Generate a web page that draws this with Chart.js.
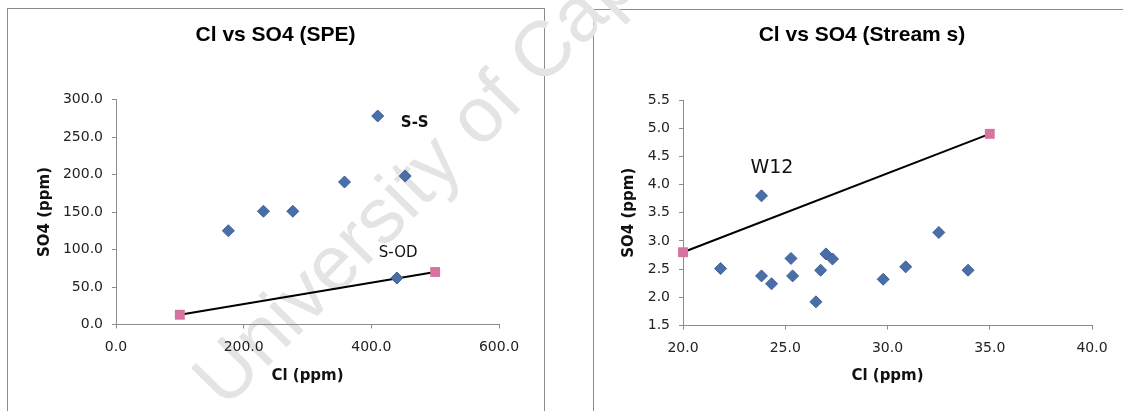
<!DOCTYPE html>
<html lang="en">
<head>
    <meta charset="UTF-8">
    <title>Cl vs SO4</title>
    <script src="https://cdn.jsdelivr.net/npm/chart.js"></script>
    <style>
        html, body { margin: 0; padding: 0; background: #fff; overflow: hidden; }
        body { width: 1123px; height: 411px; position: relative; }
        .frame { position: absolute; border: 1px solid #8a8a8a; box-sizing: border-box; z-index: 0; }
        .box { position: absolute; z-index: 2; }
        .watermark {
            position: absolute; left: 225px; top: 344px; z-index: 1;
            font-family: 'Liberation Sans', Arial, sans-serif; font-size: 78px; line-height: 1;
            color: #e4e4e4; white-space: nowrap;
            transform-origin: 0 66px; transform: rotate(-45.5deg);
        }
    </style>
</head>
<body>
    <div class="frame" style="left:7px; top:8px; width:538px; height:450px;"></div>
    <div class="frame" style="left:593px; top:9px; width:600px; height:450px;"></div>
    <div class="watermark">University of Cape Town</div>

    <div class="box" style="left:8px; top:9px;"><canvas id="speChart" width="535" height="402"></canvas></div>
    <div class="box" style="left:594px; top:10px;"><canvas id="streamChart" width="536" height="401"></canvas></div>

    <script>
        // SPE samples (left plot)
        const speCl = [176, 231, 277, 358, 410, 453, 440];
        const speSO4 = [125, 151, 151, 190, 278, 198, 62];
        const speLineCl = [100, 500];
        const speLineSO4 = [13, 70];
        const speNotes = ['S-S', 'S-OD'];
        const speNoteCl = [468, 442];
        const speNoteSO4 = [268, 95];
        const speXTicks = [0, 200, 400, 600];
        const speYTicks = [0, 50, 100, 150, 200, 250, 300];

        // Stream samples (right plot)
        const streamCl = [21.84, 23.84, 23.84, 24.33, 25.28, 25.36, 26.5, 26.73, 26.99, 27.31, 29.79, 30.89, 32.51, 33.94];
        const streamSO4 = [2.51, 3.80, 2.38, 2.24, 2.69, 2.38, 1.92, 2.48, 2.77, 2.68, 2.32, 2.54, 3.15, 2.48];
        const streamLineCl = [20, 35];
        const streamLineSO4 = [2.8, 4.9];
        const streamNotes = ['W12'];
        const streamNoteCl = [24.35];
        const streamNoteSO4 = [4.29];
        const streamXTicks = [20, 25, 30, 35, 40];
        const streamYTicks = [1.5, 2.0, 2.5, 3.0, 3.5, 4.0, 4.5, 5.0, 5.5];

        const BLUE = '#4a6fa8';
        const BLUE_EDGE = '#3f6097';
        const PINK = '#d6739f';
        const AXIS = '#8c8c8c';
        const tickFont = { family: 'DejaVu Sans', size: 14 };
        const axisTitleFont = { family: 'DejaVu Sans', size: 15, weight: 'bold' };

        function toXY(xs, ys) {
            return xs.map((x, i) => ({ x: x, y: ys[i] }));
        }

        function axis(ticks, fit, title, titlePad) {
            return {
                type: 'linear',
                min: ticks[0],
                max: ticks[ticks.length - 1],
                afterBuildTicks: s => { s.ticks = ticks.map(v => ({ value: v })); },
                grid: { drawOnChartArea: false, drawTicks: true, tickLength: 4, color: AXIS },
                border: { display: true, color: AXIS, width: 1 },
                ticks: { color: '#222', font: tickFont, autoSkip: false, maxRotation: 0,
                         callback: v => Number(v).toFixed(1) },
                title: { display: true, text: title, color: '#111', font: axisTitleFont, padding: titlePad },
                afterFit: fit
            };
        }

        function makeChart(id, o) {
            const x = axis(o.xTicks, s => { s.height = o.xAxisH; }, 'Cl (ppm)', { top: 0, bottom: 25.6 });
            x.position = 'bottom';
            x.ticks.padding = 10;
            const y = axis(o.yTicks, s => { s.width = o.yAxisW; }, 'SO4 (ppm)', { top: o.yTitlePad, bottom: 0 });
            y.position = 'left';
            y.ticks.padding = 9;

            return new Chart(document.getElementById(id), {
                type: 'scatter',
                data: {
                    datasets: [
                        {
                            data: toXY(o.xs, o.ys),
                            pointStyle: 'rectRot', pointRadius: 6,
                            backgroundColor: BLUE, borderColor: BLUE_EDGE, borderWidth: 1,
                            clip: false
                        },
                        {
                            data: toXY(o.lineX, o.lineY),
                            showLine: true, borderColor: '#000', borderWidth: 2,
                            pointStyle: 'rect', pointRadius: 7,
                            pointBackgroundColor: PINK, pointBorderColor: PINK, pointBorderWidth: 0,
                            clip: false
                        }
                    ]
                },
                options: {
                    responsive: false,
                    animation: false,
                    layout: { padding: 0 },
                    plugins: {
                        legend: { display: false },
                        tooltip: { enabled: false },
                        title: {
                            display: true, text: o.title, color: '#000',
                            font: { family: 'Liberation Sans', size: 21, weight: 'bold' },
                            padding: { top: o.titleTop, bottom: o.titleBottom }
                        }
                    },
                    scales: {
                        x: x,
                        y: y,
                        // empty right-hand strip so the plot ends where it should
                        pad: {
                            type: 'linear', position: 'right', display: true,
                            grid: { display: false }, border: { display: false },
                            ticks: { display: false },
                            afterFit: s => { s.width = o.rightW; }
                        }
                    }
                },
                plugins: [{
                    id: 'notes',
                    afterDatasetsDraw(chart) {
                        const ctx = chart.ctx;
                        ctx.save();
                        ctx.fillStyle = '#111';
                        ctx.textAlign = 'center';
                        ctx.textBaseline = 'middle';
                        o.notes.forEach((t, i) => {
                            ctx.font = o.noteFonts[i];
                            ctx.fillText(t, chart.scales.x.getPixelForValue(o.noteX[i]),
                                            chart.scales.y.getPixelForValue(o.noteY[i]));
                        });
                        ctx.restore();
                    }
                }]
            });
        }

        makeChart('speChart', {
            title: 'Cl vs SO4 (SPE)',
            xs: speCl, ys: speSO4, lineX: speLineCl, lineY: speLineSO4,
            xTicks: speXTicks, yTicks: speYTicks,
            notes: speNotes, noteX: speNoteCl, noteY: speNoteSO4,
            noteFonts: ['bold 15px "DejaVu Sans"', '15px "DejaVu Sans"'],
            titleTop: 13.4, titleBottom: 51.9,
            yAxisW: 108, xAxisH: 86.5, rightW: 44, yTitlePad: 28
        });

        makeChart('streamChart', {
            title: 'Cl vs SO4 (Stream s)',
            xs: streamCl, ys: streamSO4, lineX: streamLineCl, lineY: streamLineSO4,
            xTicks: streamXTicks, yTicks: streamYTicks,
            notes: streamNotes, noteX: streamNoteCl, noteY: streamNoteSO4,
            noteFonts: ['19px "DejaVu Sans"'],
            titleTop: 12.4, titleBottom: 52.4,
            yAxisW: 89, xAxisH: 85.5, rightW: 38, yTitlePad: 26
        });
    </script>
</body>
</html>
